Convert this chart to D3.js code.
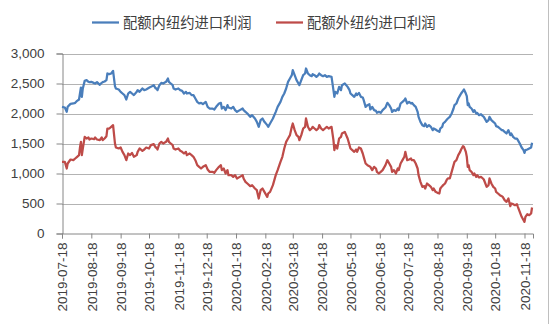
<!DOCTYPE html>
<html><head><meta charset="utf-8">
<script src="https://cdn.jsdelivr.net/npm/d3@7"></script>
<style>body{margin:0;background:#fff}</style>
</head><body><svg id="c" width="550" height="324"></svg>
<script>
const seriesNames = ["配额内纽约进口利润", "配额外纽约进口利润"];
const dates = [
"2019-07-18","2019-07-21","2019-07-23","2019-07-24","2019-07-27","2019-07-30","2019-08-01","2019-08-03","2019-08-05","2019-08-06",
"2019-08-07","2019-08-08","2019-08-09","2019-08-11","2019-08-13","2019-08-15","2019-08-16","2019-08-18","2019-08-21","2019-08-22",
"2019-08-24","2019-08-27","2019-08-29","2019-08-30","2019-09-01","2019-09-03","2019-09-04","2019-09-06","2019-09-08","2019-09-10",
"2019-09-12","2019-09-13","2019-09-16","2019-09-18","2019-09-20","2019-09-22","2019-09-24","2019-09-26","2019-09-28","2019-09-30",
"2019-10-02","2019-10-05","2019-10-06","2019-10-08","2019-10-11","2019-10-13","2019-10-15","2019-10-18","2019-10-20","2019-10-23",
"2019-10-25",
"2019-10-26","2019-10-27","2019-10-29","2019-10-31","2019-11-02","2019-11-05","2019-11-07","2019-11-08","2019-11-10","2019-11-12",
"2019-11-13","2019-11-15","2019-11-18","2019-11-20","2019-11-22","2019-11-24","2019-11-26","2019-11-27","2019-11-30","2019-12-02",
"2019-12-04","2019-12-06","2019-12-08","2019-12-10","2019-12-12","2019-12-14","2019-12-17","2019-12-19","2019-12-21","2019-12-24",
"2019-12-26","2019-12-28","2019-12-31","2020-01-02","2020-01-03","2020-01-05","2020-01-07","2020-01-09","2020-01-10","2020-01-13",
"2020-01-15","2020-01-17","2020-01-19","2020-01-22","2020-01-25","2020-01-26","2020-01-28","2020-01-30","2020-02-02",
"2020-02-04","2020-02-07","2020-02-09","2020-02-11","2020-02-13","2020-02-15","2020-02-17","2020-02-20","2020-02-21","2020-02-23",
"2020-02-26","2020-02-29","2020-03-02","2020-03-05","2020-03-07","2020-03-09","2020-03-11","2020-03-13","2020-03-15","2020-03-17",
"2020-03-18","2020-03-20","2020-03-22","2020-03-24","2020-03-25","2020-03-27","2020-03-29","2020-03-31","2020-04-01","2020-04-03",
"2020-04-05","2020-04-07","2020-04-08","2020-04-10","2020-04-12","2020-04-14","2020-04-15","2020-04-17","2020-04-19","2020-04-21",
"2020-04-23","2020-04-25","2020-04-28","2020-04-30","2020-05-01","2020-05-02","2020-05-04","2020-05-06","2020-05-08","2020-05-09",
"2020-05-12",
"2020-05-15","2020-05-17","2020-05-18","2020-05-20","2020-05-22","2020-05-24","2020-05-25","2020-05-27","2020-05-29","2020-05-31",
"2020-06-01","2020-06-03","2020-06-05","2020-06-07","2020-06-08","2020-06-10","2020-06-12","2020-06-14","2020-06-15","2020-06-17",
"2020-06-19","2020-06-21","2020-06-24","2020-06-26","2020-06-28","2020-06-30","2020-07-01","2020-07-03","2020-07-05","2020-07-07",
"2020-07-08","2020-07-10","2020-07-12","2020-07-14","2020-07-15","2020-07-17","2020-07-19","2020-07-21","2020-07-22","2020-07-24",
"2020-07-26","2020-07-28","2020-07-29","2020-07-31","2020-08-02","2020-08-04","2020-08-05","2020-08-07","2020-08-09","2020-08-11",
"2020-08-13","2020-08-14","2020-08-16","2020-08-18","2020-08-20","2020-08-21","2020-08-23",
"2020-08-24","2020-08-26","2020-08-28","2020-08-29","2020-08-31","2020-09-02","2020-09-04","2020-09-05","2020-09-07","2020-09-09",
"2020-09-11","2020-09-12","2020-09-14","2020-09-15","2020-09-17","2020-09-18","2020-09-19","2020-09-20","2020-09-21","2020-09-23",
"2020-09-25","2020-09-26","2020-09-28","2020-09-29","2020-10-01","2020-10-03","2020-10-05","2020-10-06","2020-10-09","2020-10-11",
"2020-10-12","2020-10-14","2020-10-16","2020-10-18","2020-10-19","2020-10-21","2020-10-23","2020-10-25","2020-10-26","2020-10-28",
"2020-10-30","2020-11-01","2020-11-03","2020-11-04","2020-11-06","2020-11-08","2020-11-10","2020-11-11","2020-11-13","2020-11-15",
"2020-11-17","2020-11-18","2020-11-19","2020-11-21","2020-11-23","2020-11-25","2020-11-26"
];
const inQuota = [
2111,2100,2028,2111,2160,2167,2178,2211,2233,2333,
2433,2278,2417,2544,2556,2528,2522,2528,2506,2500,
2522,2478,2511,2522,2533,2556,2667,2656,2667,2711,
2456,2417,2400,2361,2333,2306,2233,2333,2361,2333,
2306,2361,2389,2361,2417,2389,2400,2428,2444,2472,
2417,
2417,2389,2472,2511,2500,2528,2583,2528,2500,2472,
2417,2400,2417,2389,2378,2333,2361,2333,2344,2306,
2306,2250,2194,2167,2178,2156,2194,2111,2083,2083,
2067,2111,2167,2178,2083,2111,2056,2139,2100,2083,
2111,2056,2028,2056,2083,2056,2028,2000,1944,
1972,1917,1861,1778,1889,1917,1861,1806,1778,1833,
1917,2028,2111,2194,2278,2333,2417,2528,2583,2639,
2722,2639,2556,2500,2472,2556,2639,2667,2750,2667,
2639,2622,2656,2639,2611,2639,2667,2639,2622,2639,
2611,2622,2611,2389,2278,2361,2333,2444,2389,2472,
2500,
2444,2389,2333,2306,2278,2333,2306,2344,2278,2267,
2222,2111,2139,2156,2067,2111,2056,2044,2011,2028,
2011,2056,2100,2178,2139,2083,2028,2056,2044,2083,
2056,2167,2194,2222,2250,2167,2194,2167,2178,2139,
2111,2028,1944,1861,1806,1789,1833,1778,1806,1778,
1722,1750,1733,1711,1694,1750,1778,
1833,1861,1900,1917,1944,2000,2083,2139,2167,2250,
2306,2333,2378,2400,2333,2289,2139,2167,2111,2083,
2028,2056,2000,2011,1972,1989,1956,1944,1861,1889,
1944,1889,1861,1833,1789,1778,1750,1722,1722,1694,
1667,1722,1639,1667,1611,1583,1583,1556,1500,1433,
1389,1344,1389,1400,1417,1433,1511
];
const outQuota = [
1194,1194,1083,1167,1233,1222,1250,1278,1306,1433,
1528,1306,1417,1611,1583,1600,1567,1583,1572,1600,
1567,1556,1600,1556,1583,1622,1750,1750,1778,1806,
1500,1433,1417,1433,1361,1306,1222,1333,1306,1344,
1278,1306,1361,1417,1378,1400,1433,1417,1472,1489,
1433,
1433,1400,1500,1528,1500,1528,1583,1528,1500,1472,
1417,1400,1417,1378,1361,1333,1361,1306,1333,1306,
1278,1222,1139,1111,1083,1111,1139,1067,1028,1028,
1011,1056,1111,1139,1056,1083,1000,1056,972,972,
944,972,917,944,972,917,861,833,789,
806,750,722,583,722,750,694,611,667,694,
806,972,1056,1194,1278,1417,1528,1583,1639,1778,
1833,1722,1639,1611,1556,1639,1750,1778,1917,1778,
1722,1750,1778,1750,1722,1750,1806,1750,1722,1750,
1778,1750,1778,1556,1389,1472,1417,1583,1611,1667,
1694,
1583,1472,1417,1389,1361,1400,1361,1433,1417,1333,
1278,1167,1139,1122,1111,1056,1111,1083,1028,1000,
1028,1056,1139,1222,1167,1111,1028,1056,1000,1083,
1056,1167,1222,1278,1361,1222,1233,1250,1222,1222,
1167,1083,972,861,778,789,750,833,806,778,
722,750,694,678,667,750,789,
806,833,900,917,917,1028,1139,1194,1222,1306,
1361,1400,1456,1444,1361,1278,1111,1139,1056,1028,
972,1000,944,972,933,944,917,900,778,806,
917,833,778,750,694,667,639,622,611,556,
528,583,456,500,489,472,489,444,361,278,
222,194,278,322,306,333,433
];
const tickLabels = ["2019-07-18","2019-08-18","2019-09-18","2019-10-18","2019-11-18","2019-12-18",
"2020-01-18","2020-02-18","2020-03-18","2020-04-18","2020-05-18","2020-06-18","2020-07-18",
"2020-08-18","2020-09-18","2020-10-18","2020-11-18"];
const yTicks = [0,500,1000,1500,2000,2500,3000];
const colors = ["#4a7ebb","#be4b48"];

const parse = d3.timeParse("%Y-%m-%d");
const svg = d3.select("#c");
const x = d3.scaleTime().domain([parse("2019-07-18"), parse("2020-11-27")]).range([62, 533]);
const y = d3.scaleLinear().domain([0, 3000]).range([233.5, 53.5]);

// gridlines
svg.append("g").selectAll("line").data(yTicks.filter(d => d > 0)).join("line")
  .attr("x1", 62).attr("x2", 533)
  .attr("y1", d => Math.round(y(d)) + 0.5).attr("y2", d => Math.round(y(d)) + 0.5)
  .attr("stroke", "#b3b3b3").attr("stroke-width", 1);

// y axis
const ya = svg.append("g").attr("transform", "translate(62.5,0)")
  .call(d3.axisLeft(y).tickValues(yTicks).tickSize(6).tickPadding(12).tickFormat(d3.format(",")));
ya.select(".domain").attr("stroke", "#868686");
ya.selectAll(".tick line").attr("stroke", "#868686");
ya.selectAll("text").attr("font-family", "'Liberation Sans', Arial, sans-serif")
  .attr("font-size", "13.5px").attr("fill", "#404040");

// x axis
const xa = svg.append("g").attr("transform", "translate(0,233.5)")
  .call(d3.axisBottom(x).tickValues(tickLabels.map(parse)).tickSize(5).tickFormat(d3.timeFormat("%Y-%m-%d")));
xa.select(".domain").attr("stroke", "#868686");
xa.selectAll(".tick line").attr("stroke", "#868686");
xa.selectAll("text").attr("font-family", "'Liberation Sans', Arial, sans-serif")
  .attr("font-size", "13.5px").attr("fill", "#404040")
  .attr("transform", "rotate(-90)").attr("x", -9).attr("y", 0).attr("dy", "0.35em")
  .attr("text-anchor", "end");

// lines
const series = [inQuota, outQuota];
const line = d3.line().x((d, i) => x(parse(dates[i]))).y(d => y(d));
series.forEach((s, k) => {
  svg.append("path").datum(s).attr("d", line)
    .attr("fill", "none").attr("stroke", colors[k]).attr("stroke-width", 2.25)
    .attr("stroke-linejoin", "round");
});

// legend
const legX = [92, 276];
seriesNames.forEach((n, k) => {
  svg.append("line").attr("x1", legX[k]).attr("x2", legX[k] + 27).attr("y1", 22.5).attr("y2", 22.5)
    .attr("stroke", colors[k]).attr("stroke-width", 2.25);
  svg.append("text").attr("x", legX[k] + 31).attr("y", 22.5).attr("dy", "0.35em")
    .attr("font-family", "'Noto Sans CJK SC', sans-serif").attr("font-size", "14.3px")
    .attr("fill", "#404040").text(n);
});

// right border
svg.append("line").attr("x1", 548.5).attr("x2", 548.5).attr("y1", 0).attr("y2", 324)
  .attr("stroke", "#bfbfbf");
</script>
</body></html>
